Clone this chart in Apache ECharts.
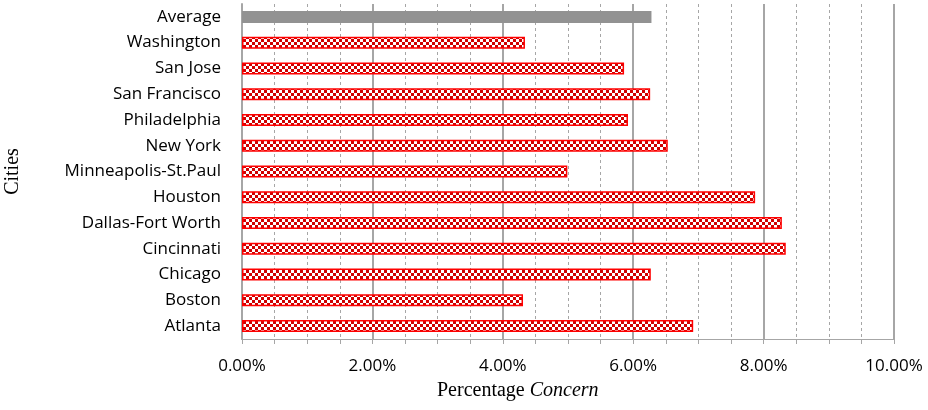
<!DOCTYPE html>
<html>
<head>
<meta charset="utf-8">
<script src="https://cdn.jsdelivr.net/npm/echarts@6/dist/echarts.min.js"></script>
<style>
  html, body { margin: 0; padding: 0; background: #fff; }
  #chart { width: 928px; height: 410px; }
</style>
</head>
<body>
<div id="chart"></div>
<script>
// Cities listed bottom-to-top as drawn on the category axis
const cities = [
  'Atlanta', 'Boston', 'Chicago', 'Cincinnati', 'Dallas-Fort Worth', 'Houston',
  'Minneapolis-St.Paul', 'New York', 'Philadelphia', 'San Francisco', 'San Jose',
  'Washington', 'Average'
];
// Percentage concern per city (percent units)
const concern = [6.92, 4.31, 6.27, 8.34, 8.28, 7.87, 4.99, 6.53, 5.92, 6.26, 5.86, 4.34, 6.28];
const xTicks = [0, 2, 4, 6, 8, 10];

// Red/white checkerboard fill for the city bars
function checker() {
  const c = document.createElement('canvas');
  const s = 3;
  c.width = s * 2; c.height = s * 2;
  const g = c.getContext('2d');
  g.fillStyle = '#ffffff';
  g.fillRect(0, 0, s * 2, s * 2);
  g.fillStyle = '#d00000';
  g.fillRect(0, 0, s, s);
  g.fillRect(s, s, s, s);
  return c;
}
const pattern = { image: checker(), repeat: 'repeat' };

const labelFont = '"Open Sans", "Noto Sans", sans-serif';
const serifFont = '"Liberation Serif", "Times New Roman", serif';

const chart = echarts.init(document.getElementById('chart'), null, { renderer: 'canvas' });
chart.setOption({
  animation: false,
  grid: { left: 242, right: 34, top: 4, bottom: 71, containLabel: false, outerBoundsMode: 'none' },
  xAxis: [
    {
      type: 'value', min: 0, max: 10, interval: 0.5,
      axisLine: { show: true, lineStyle: { color: '#a6a6a6', width: 1 } },
      axisTick: { show: true, length: 5, lineStyle: { color: '#a6a6a6' } },
      axisLabel: {
        color: '#000', fontFamily: labelFont, fontSize: 17, margin: 19,
        formatter: v => (xTicks.indexOf(v) >= 0 ? v.toFixed(2) + '%' : '')
      },
      splitLine: { show: true, lineStyle: { color: '#a6a6a6', type: [3, 3], width: 1 } }
    },
    {
      type: 'value', min: 0, max: 10, interval: 2, position: 'bottom',
      axisLine: { show: false }, axisTick: { show: false }, axisLabel: { show: false },
      splitLine: { show: true, lineStyle: { color: '#a6a6a6', type: 'solid', width: 2 } }
    }
  ],
  yAxis: {
    type: 'category', data: cities,
    name: 'Cities', nameLocation: 'middle', nameGap: 219, nameRotate: 90,
    nameTextStyle: { fontFamily: serifFont, fontSize: 20, color: '#000' },
    axisLine: { show: true, lineStyle: { color: '#a6a6a6', width: 2 } },
    axisTick: { show: false },
    axisLabel: { color: '#000', fontFamily: labelFont, fontSize: 17, margin: 21 }
  },
  graphic: [{
    type: 'text', left: 437, top: 381,
    style: {
      text: '{a|Percentage }{b|Concern}',
      rich: {
        a: { fontFamily: serifFont, fontSize: 20, fill: '#000' },
        b: { fontFamily: serifFont, fontSize: 20, fontStyle: 'italic', fill: '#000' }
      }
    }
  }],
  series: [{
    type: 'bar', xAxisIndex: 0, barWidth: 12,
    data: concern.map((v, i) => cities[i] === 'Average'
      ? { value: v, itemStyle: { color: '#929292', borderWidth: 0 } }
      : { value: v, itemStyle: { color: pattern, borderColor: '#ff0000', borderWidth: 1.5 } }),
    z: 3
  }]
});
</script>
</body>
</html>
